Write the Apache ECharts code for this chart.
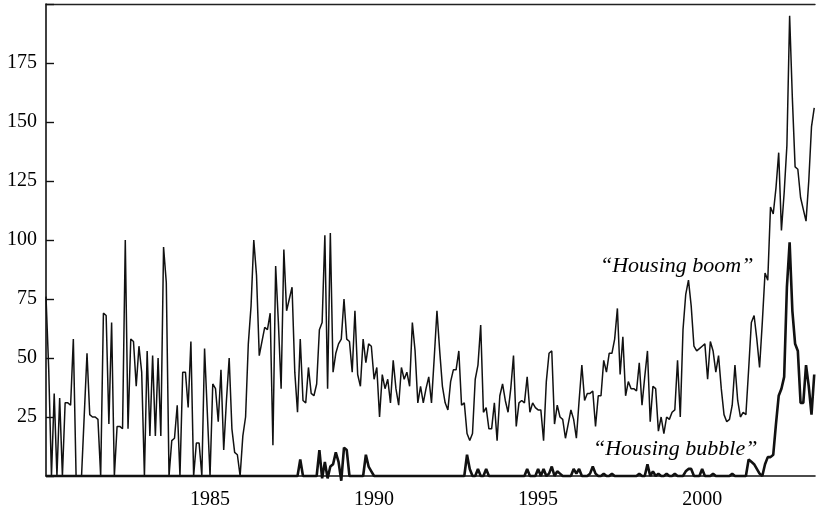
<!DOCTYPE html>
<html>
<head>
<meta charset="utf-8">
<script src="https://cdn.jsdelivr.net/npm/echarts@6/dist/echarts.min.js"></script>
<style>
html,body{margin:0;padding:0;background:#fff;}
#chart{width:825px;height:516px;}
</style>
</head>
<body>
<div id="chart"></div>
<script>
// Monthly series, starting January 1980
const startYear = 1980;
const boom = [
  76,45,0,35,0,33,0,31,31,30,58,0,          // 1980
  0,0,26,52,26,25,25,24,0,69,68,22,         // 1981
  65,0,21,21,20,100,20,58,57,38,55,44,      // 1982
  0,53,17,51,17,50,17,97,82,0,15,16,        // 1983
  30,0,44,44,29,57,0,14,14,0,54,27,         // 1984
  0,39,37,23,45,11,32,50,20,10,9,0,         // 1985
  17,25,56,72,100,85,51,57,63,62,69,13,     // 1986
  89,65,37,96,70,75,80,44,27,58,32,31,      // 1987
  46,35,34,39,62,65,102,37,103,44,52,56,    // 1988
  58,75,58,57,44,70,43,38,58,48,56,55,      // 1989
  41,46,25,43,37,41,31,49,37,30,46,41,      // 1990
  44,38,65,53,31,38,31,37,42,31,50,70,      // 1991
  53,38,31,28,40,45,45,53,30,31,18,15,      // 1992
  18,41,47,64,27,29,20,20,31,15,34,39,      // 1993
  32,27,37,51,21,31,32,31,42,27,31,29,      // 1994
  28,28,15,40,52,53,22,30,25,24,16,22,      // 1995
  28,24,16,32,47,32,35,35,36,21,34,34,      // 1996
  49,44,52,52,58,71,43,59,34,40,37,37,      // 1997
  36,48,30,42,53,23,38,37,19,25,18,25,      // 1998
  24,27,28,49,25,62,77,83,72,55,53,54,      // 1999
  55,56,41,57,53,44,51,37,26,23,24,30,      // 2000
  47,32,25,27,26,45,65,68,58,46,65,86,      // 2001
  83,114,111,122,137,104,120,140,195,160,131,130, // 2002
  118,113,108,125,148,156                   // 2003
];
const bubble = [
  0,0,0,0,0,0,0,0,0,0,0,0,      // 1980
  0,0,0,0,0,0,0,0,0,0,0,0,      // 1981
  0,0,0,0,0,0,0,0,0,0,0,0,      // 1982
  0,0,0,0,0,0,0,0,0,0,0,0,      // 1983
  0,0,0,0,0,0,0,0,0,0,0,0,      // 1984
  0,0,0,0,0,0,0,0,0,0,0,0,      // 1985
  0,0,0,0,0,0,0,0,0,0,0,0,      // 1986
  0,0,0,0,0,0,0,0,0,7,0,0,      // 1987
  0,0,0,0,11,-1,6,-1,4,5,10,6,  // 1988
  -2,12,11,0,0,0,0,0,0,9,4,2,   // 1989
  0,0,0,0,0,0,0,0,0,0,0,0,      // 1990
  0,0,0,0,0,0,0,0,0,0,0,0,      // 1991
  0,0,0,0,0,0,0,0,0,0,9,3,      // 1992
  0,0,3,0,0,3,0,0,0,0,0,0,      // 1993
  0,0,0,0,0,0,0,0,3,0,0,0,      // 1994
  3,0,3,0,1,4,0,2,1,0,0,0,      // 1995
  0,3,1,3,0,0,0,1,4,1,0,0,      // 1996
  1,0,0,1,0,0,0,0,0,0,0,0,      // 1997
  0,1,0,0,5,0,2,0,1,0,0,1,      // 1998
  0,0,1,0,0,0,2,3,3,0,0,0,      // 1999
  3,0,0,0,1,0,0,0,0,0,0,1,      // 2000
  0,0,0,0,0,7,6,5,3,1,0,5,      // 2001
  8,8,9,22,34,37,42,80,99,70,56,53, // 2002
  31,31,47,38,26,43             // 2003
];
const xLabelYears = [1985, 1990, 1995, 2000];
const yTickValues = [25, 50, 75, 100, 125, 150, 175];
const labelBoom = '\u201CHousing boom\u201D';
const labelBubble = '\u201CHousing bubble\u201D';

const toPairs = arr => arr.map((v, i) => [startYear + i / 12, v]);

const serif = '"Liberation Serif", "DejaVu Serif", serif';
const ink = '#111';

const chart = echarts.init(document.getElementById('chart'), null, {renderer: 'canvas'});
const xMin = 1980, xMax = 2003.44;
chart.setOption({
  animation: false,
  backgroundColor: '#fff',
  grid: {left: 46, right: 10, top: 4, bottom: 40, containLabel: false},
  xAxis: [{
    type: 'value', min: xMin, max: xMax, interval: 5,
    axisLine: {show: true, onZero: false, lineStyle: {color: ink, width: 1.6}},
    axisTick: {show: false},
    splitLine: {show: false},
    axisLabel: {
      color: '#000', fontFamily: serif, fontSize: 20, margin: 14,
      formatter: v => (xLabelYears.indexOf(Math.round(v)) >= 0 && Math.abs(v - Math.round(v)) < 1e-6) ? String(Math.round(v)) : ''
    }
  }, {
    type: 'value', position: 'top', min: xMin, max: xMax,
    axisLine: {show: true, onZero: false, lineStyle: {color: '#222', width: 1.4}},
    axisTick: {show: false}, axisLabel: {show: false}, splitLine: {show: false}
  }],
  yAxis: {
    type: 'value', min: 0, max: 200, interval: 25,
    axisLine: {show: true, onZero: false, lineStyle: {color: ink, width: 1.6}},
    axisTick: {show: true, inside: true, length: 8, lineStyle: {color: ink, width: 1.4}},
    splitLine: {show: false},
    axisLabel: {
      color: '#000', fontFamily: serif, fontSize: 20, margin: 9,
      formatter: v => yTickValues.indexOf(v) >= 0 ? String(v) : ''
    }
  },
  series: [{
    name: 'Housing boom', type: 'line', data: toPairs(boom),
    showSymbol: false, symbol: 'none',
    lineStyle: {color: ink, width: 1.5}, z: 2
  }, {
    name: 'Housing bubble', type: 'line', data: toPairs(bubble),
    showSymbol: false, symbol: 'none', clip: false,
    lineStyle: {color: ink, width: 2.6}, z: 3
  }],
  graphic: [{
    type: 'text', x: 600, y: 266,
    style: {text: labelBoom, font: 'italic 22px ' + serif, fill: '#000', verticalAlign: 'middle', align: 'left'}
  }, {
    type: 'text', x: 593, y: 449,
    style: {text: labelBubble, font: 'italic 22px ' + serif, fill: '#000', verticalAlign: 'middle', align: 'left'}
  }]
});
</script>
</body>
</html>
